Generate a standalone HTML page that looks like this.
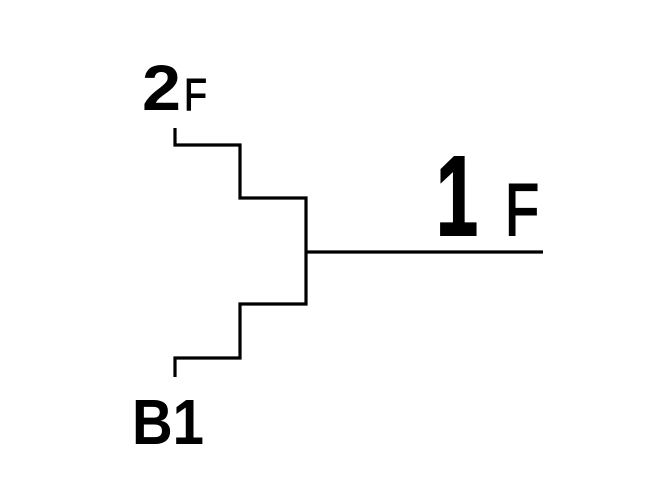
<!DOCTYPE html>
<html><head><meta charset="utf-8"><style>
html,body{margin:0;padding:0;background:#fff;width:658px;height:490px;overflow:hidden}
svg text{font-family:"Liberation Sans",sans-serif;fill:#000}
</style></head><body>
<svg width="658" height="490" viewBox="0 0 658 490">
<g fill="none" stroke="#000" stroke-width="3.2" stroke-linejoin="miter">
<polyline points="175,128 175,145 240,145 240,198 306,198 306,252"/>
<polyline points="175,377 175,358 240,358 240,304 306,304 306,252"/>
<line x1="306" y1="252" x2="543" y2="252"/>
</g>
<text x="142" y="110" font-size="64" font-weight="bold" textLength="39" lengthAdjust="spacingAndGlyphs">2</text>
<text x="184" y="110" font-size="45" stroke="#000" stroke-width="1" textLength="23" lengthAdjust="spacingAndGlyphs">F</text>
<text x="436" y="235" font-size="113" font-weight="bold" stroke="#000" stroke-width="2" textLength="42" lengthAdjust="spacingAndGlyphs">1</text>
<text x="505" y="235" font-size="73" stroke="#000" stroke-width="2" textLength="34" lengthAdjust="spacingAndGlyphs">F</text>
<text x="132" y="444" font-size="64" font-weight="bold" textLength="72" lengthAdjust="spacingAndGlyphs">B1</text>
</svg>
</body></html>
